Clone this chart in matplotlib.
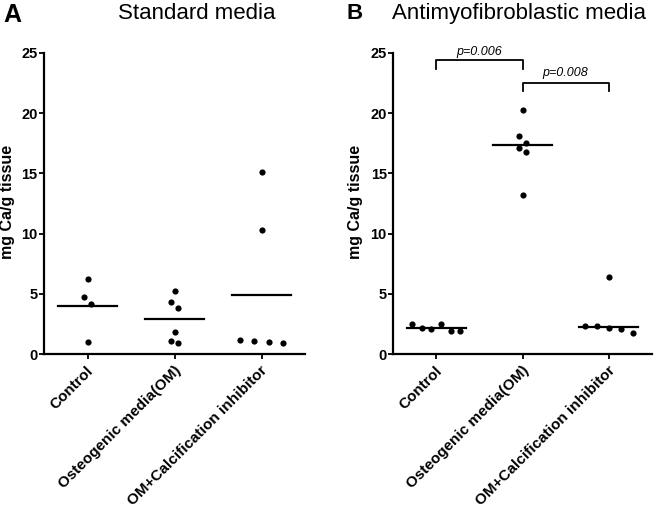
import matplotlib
matplotlib.use("Agg")
import matplotlib.pyplot as plt
import matplotlib.transforms as mtransforms
import numpy as np

plt.rcParams['font.family'] = ['Liberation Sans', 'DejaVu Sans']

groups = ["Control", "Osteogenic media(OM)", "OM+Calcification inhibitor"]

# panel A, standard media (centre line = mean)
std_control = [6.2, 4.7, 4.15, 1.0]
std_om = [5.23, 4.3, 3.8, 1.85, 1.1, 0.95]
std_om_inhib = [15.1, 10.27, 1.16, 1.05, 0.98, 0.95]

# panel B, antimyofibroblastic media (centre line = median)
amf_control = [2.46, 2.2, 2.05, 2.5, 1.94, 1.9]
amf_om = [20.24, 18.13, 17.5, 17.14, 16.8, 13.23]
amf_om_inhib = [6.4, 2.33, 2.33, 2.13, 2.05, 1.77]

comparisons = [(0, 1, "p=0.006"), (1, 2, "p=0.008")]
yticks = [0, 5, 10, 15, 20, 25]


def spread(vals, gap=0.7):
    """horizontal pixel offsets, prism style scatter"""
    vals = np.asarray(vals, dtype=float)
    order = np.argsort(-vals, kind="stable")
    clusters, cur = [], [order[0]]
    for a, b in zip(order[:-1], order[1:]):
        if vals[a] - vals[b] < gap:
            cur.append(b)
        else:
            clusters.append(cur)
            cur = [b]
    clusters.append(cur)
    off = np.zeros(len(vals))
    for c in clusters:
        c = sorted(c)
        n = len(c)
        if n == 1:
            continue
        if vals[c].max() - vals[c].min() > 1.0:
            steps = np.array([3.5 if i % 2 else -3.5 for i in range(n)])
        else:
            step = 7.0 if n == 2 else min(14.3, 48.0 / (n - 1))
            steps = (np.arange(n) - (n - 1) / 2) * step
        off[c] = steps
    return off


def style_axes(ax, label_x):
    for s in ['top', 'right']:
        ax.spines[s].set_visible(False)
    for s in ['left', 'bottom']:
        ax.spines[s].set_linewidth(1.6)
    ax.set_xlim(-0.5, 2.5)
    ax.set_ylim(0, 25)
    ax.set_yticks(yticks)
    ax.tick_params(axis='y', length=3.5, width=1.3, pad=1, labelsize=10.5)
    ax.tick_params(axis='x', length=3.8, width=1.3, pad=3)
    for lab in ax.get_yticklabels():
        lab.set_fontweight('bold')
    ax.set_xticks(range(len(groups)))
    ax.set_xticklabels(groups, rotation=45, ha='right', va='top',
                       rotation_mode='anchor', fontsize=11, fontweight='bold')
    shift = mtransforms.ScaledTranslation(-1 / 100, 0, ax.figure.dpi_scale_trans)
    for lab in ax.get_xticklabels():
        lab.set_transform(lab.get_transform() + shift)
    ax.set_ylabel("mg Ca/g tissue", fontsize=11.5, fontweight='bold')
    ax.yaxis.set_label_coords(label_x, 0.505)


def draw_panel(ax, data, center):
    px_per_cat = ax.get_window_extent().width / 3
    for i, vals in enumerate(data):
        xs = i + spread(vals) / px_per_cat
        ax.scatter(xs, vals, s=20, color='black', zorder=3, linewidths=0)
        ax.plot([i - 0.34, i + 0.34], [center(vals)] * 2, color='black', lw=1.6)


fig = plt.figure(figsize=(6.57, 5.08), dpi=100)
ax1 = fig.add_axes([44 / 657, 154 / 508, 261 / 657, 301 / 508])
ax2 = fig.add_axes([393 / 657, 154 / 508, 259 / 657, 301 / 508])

style_axes(ax1, -0.111)
style_axes(ax2, -0.116)
draw_panel(ax1, [std_control, std_om, std_om_inhib], np.mean)
draw_panel(ax2, [amf_control, amf_om, amf_om_inhib], np.median)

# significance brackets
bracket_levels = [(24.4, 23.7, 25.1), (22.5, 21.85, 23.3)]
for (a, b, txt), (top, leg, ty) in zip(comparisons, bracket_levels):
    ax2.plot([a, a, b, b], [leg, top, top, leg], color='black', lw=1.3,
             clip_on=False)
    ax2.text((a + b) / 2, ty, txt, ha='center', va='center', fontsize=9,
             style='italic')

fig.text(3 / 657, 1 - 21.7 / 508, "A", fontsize=18, fontweight='bold',
         va='baseline', ha='left')
fig.text(197 / 657, 1 - 19 / 508, "Standard media", fontsize=16,
         va='baseline', ha='center')
fig.text(346 / 657, 1 - 19.3 / 508, "B", fontsize=16, fontweight='bold',
         va='baseline', ha='left')
fig.text(519.5 / 657, 1 - 19 / 508, "Antimyofibroblastic media", fontsize=16,
         va='baseline', ha='center')

fig.savefig("out.png", dpi=100)
